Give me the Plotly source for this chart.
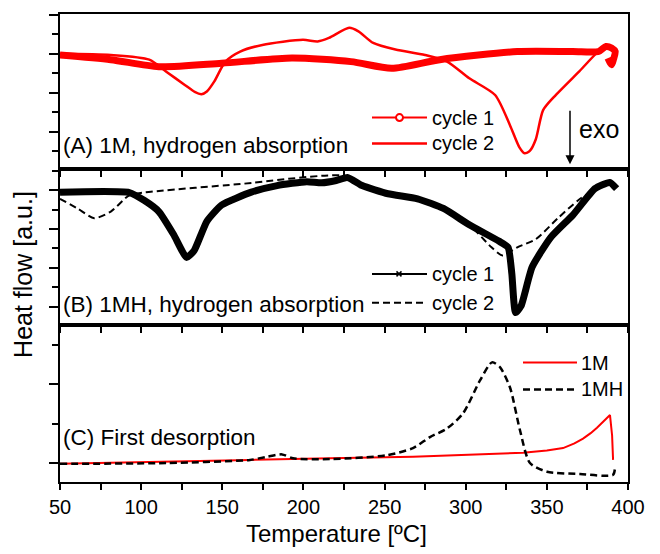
import plotly.graph_objects as go

# ---------------- data (temperature in degC, heat flow in arbitrary units) ----------------
# Panel A: 1M, hydrogen absorption
a_c1_T = [50, 81.3, 110.9, 149.6, 192.9, 229.3, 254.4, 284.0, 331.8, 366.0, 381.9,
          386.4, 389.9, 392.1, 391.0, 389.9, 387.6]
a_c1_y = [1.97, 1.85, 1.67, 1.76, 1.89, 1.80, 1.63, 1.85, 2.06, 2.06, 2.06,
          2.19, 2.15, 2.06, 1.85, 1.72, 1.89]
a_c2_T = [50, 81.3, 105.0, 115.5, 126.9, 133.0, 137.1, 140.5, 145.1, 151.9, 161.0, 174.7,
          199.7, 208.8, 215.7, 228.2, 233.9, 243.0, 256.7, 274.9, 288.5, 302.2, 318.1,
          327.2, 333.0, 336.3, 339.5, 343.2, 347.7, 354.6, 370.0, 384.2, 388.7]
a_c2_y = [2.00, 1.97, 1.85, 1.54, 1.20, 1.02, 0.96, 1.03, 1.29, 1.80, 2.06, 2.23,
          2.36, 2.32, 2.41, 2.67, 2.58, 2.28, 2.11, 1.97, 1.80, 1.37, 0.94,
          0.17, -0.40, -0.56, -0.50, -0.20, 0.55, 0.90, 1.55, 2.15, 2.19]

# Panel B: 1MH, hydrogen absorption
b_c1_T = [50, 92.7, 101.8, 110.9, 120.0, 128.0, 132.6, 140.5, 149.6, 167.9, 183.8, 202.0,
          211.1, 220.2, 227.1, 236.2, 252.1, 270.3, 286.3, 302.2, 320.4, 326.1, 328.4,
          330.7, 334.1, 340.9, 352.3, 366.0, 379.6, 388.7, 393.0]
b_c1_y = [2.95, 2.94, 2.74, 2.45, 1.86, 1.27, 1.44, 2.20, 2.62, 2.95, 3.12, 3.22,
          3.19, 3.25, 3.33, 3.12, 2.91, 2.78, 2.53, 2.11, 1.69, 1.53, 0.86,
          -0.15, 0.02, 1.02, 1.78, 2.36, 3.04, 3.20, 3.04]
b_c2_T = [50, 60.8, 71.1, 81.3, 92.7, 101.8, 161.0, 224.8, 236.2, 252.1, 270.3, 286.3,
          302.2, 315.9, 322.7, 331.8, 343.2, 356.8, 370.5, 384.2, 391.0]
b_c2_y = [2.78, 2.53, 2.28, 2.45, 2.87, 2.94, 3.16, 3.37, 3.12, 2.91, 2.78, 2.53,
          2.11, 1.53, 1.32, 1.53, 1.74, 2.28, 2.78, 3.12, 3.20]

# Panel C: first desorption
c_1m_T = [50, 105.5, 167.1, 216.4, 267.5, 335.3, 350.0, 360.0, 367.0, 372.3, 377.0,
          380.9, 385.0, 388.9, 390.2, 390.8]
c_1m_y = [-0.01, 0.01, 0.04, 0.06, 0.08, 0.13, 0.16, 0.19, 0.25, 0.31, 0.38,
          0.45, 0.53, 0.61, 0.35, 0.04]
c_1mh_T = [50, 115.9, 167.1, 177.6, 186.8, 193.6, 216.4, 251.5, 267.5, 278.0, 288.5, 298.3,
           308.8, 316.2, 321.1, 327.3, 333.4, 339.6, 350.1, 370.4, 390.8, 392.0]
c_1mh_y = [-0.01, 0.00, 0.04, 0.08, 0.11, 0.06, 0.05, 0.10, 0.19, 0.33, 0.44, 0.63,
           1.05, 1.28, 1.22, 0.96, 0.42, 0.00, -0.11, -0.14, -0.15, -0.05]

x_ticks = [50, 100, 150, 200, 250, 300, 350, 400]

RED = "#ff0000"
FONT = "Liberation Sans, Arial, sans-serif"

# The page body has an 8px margin: the figure is sized so that its plot area lands
# where the reference has it in the 660x554 window.
OFF = 8
W, H = 660 - OFF, 554 - OFF
L, T = 60 - OFF, 12 - OFF
R = W - (628 - OFF)
B = H - (482 - OFF)
PW, PH = 568, 470


def yp(py):  # reference pixel row -> paper
    return (482 - py) / PH


def xp(px):  # reference pixel column -> paper
    return (px - 60) / PW


fig = go.Figure()
SM = 0.7

# Panel A
fig.add_trace(go.Scatter(x=a_c1_T, y=a_c1_y, mode="lines",
                         line=dict(color=RED, width=7, shape="spline", smoothing=SM),
                         xaxis="x", yaxis="y", showlegend=False))
fig.add_trace(go.Scatter(x=a_c2_T, y=a_c2_y, mode="lines",
                         line=dict(color=RED, width=2.5, shape="spline", smoothing=SM),
                         xaxis="x", yaxis="y", showlegend=False))

# Panel B
fig.add_trace(go.Scatter(x=b_c1_T, y=b_c1_y, mode="lines",
                         line=dict(color="black", width=7, shape="spline", smoothing=0.5),
                         xaxis="x2", yaxis="y2", showlegend=False))
fig.add_trace(go.Scatter(x=b_c2_T, y=b_c2_y, mode="lines",
                         line=dict(color="black", width=2, dash="7px,4px", shape="spline", smoothing=SM),
                         xaxis="x2", yaxis="y2", showlegend=False))

# Panel C
fig.add_trace(go.Scatter(x=c_1m_T, y=c_1m_y, mode="lines",
                         line=dict(color=RED, width=2),
                         xaxis="x3", yaxis="y3", showlegend=False))
fig.add_trace(go.Scatter(x=c_1mh_T, y=c_1mh_y, mode="lines",
                         line=dict(color="black", width=2.5, dash="7px,4px", shape="spline", smoothing=SM),
                         xaxis="x3", yaxis="y3", showlegend=False))

dom_a = [yp(168), 1.0]
dom_b = [yp(324), yp(168)]
dom_c = [0.0, yp(324)]

xcommon = dict(range=[50, 400], showline=True, linecolor="black", linewidth=2, mirror=True,
               ticks="outside", ticklen=6, tickwidth=1.5, tickcolor="black",
               tickvals=x_ticks, showgrid=False, zeroline=False,
               minor=dict(dtick=25, tick0=0, ticks="outside", ticklen=6, tickwidth=1.5,
                          tickcolor="black", showgrid=False))
ycommon = dict(showline=True, linecolor="black", linewidth=2, mirror=True,
               ticks="outside", ticklen=9, tickwidth=1.5, tickcolor="black",
               dtick=1, tick0=0, showticklabels=False, showgrid=False, zeroline=False,
               minor=dict(dtick=0.5, tick0=0, ticks="outside", ticklen=6, tickwidth=1.5,
                          tickcolor="black", showgrid=False))

fig.update_layout(
    width=W, height=H,
    margin=dict(l=L, r=R, t=T, b=B),
    paper_bgcolor="white", plot_bgcolor="white",
    font=dict(family=FONT, size=20, color="black"),
    showlegend=False,
    xaxis=dict(**xcommon, anchor="y", domain=[0, 1], showticklabels=False),
    xaxis2=dict(**xcommon, anchor="y2", domain=[0, 1], showticklabels=False),
    xaxis3=dict(**xcommon, anchor="y3", domain=[0, 1], showticklabels=True,
                tickfont=dict(size=20, family=FONT)),
    xaxis4=dict(range=[50, 400], overlaying="x", side="top", anchor="y", ticks="inside",
                ticklen=9, tickwidth=1.5, tickcolor="black", tickvals=x_ticks[1:-1],
                showticklabels=False, showline=False, showgrid=False, zeroline=False),
    yaxis=dict(**ycommon, anchor="x", domain=dom_a, range=[-0.974, 3.026]),
    yaxis2=dict(**ycommon, anchor="x2", domain=dom_b, range=[-0.462, 3.538]),
    yaxis3=dict(**ycommon, anchor="x3", domain=dom_c, range=[-0.241, 1.759]),
)

# ---- legend keys (drawn as paper shapes so the key lines match the reference length)
shapes = []


def key_line(x0, x1, y, color, width, dash="solid"):
    shapes.append(dict(type="line", xref="paper", yref="paper", x0=xp(x0), x1=xp(x1),
                       y0=yp(y), y1=yp(y), line=dict(color=color, width=width, dash=dash)))


key_line(372, 427, 116, RED, 2)
shapes.append(dict(type="circle", xref="paper", yref="paper", x0=xp(396), x1=xp(403),
                   y0=yp(119.5), y1=yp(112.5), fillcolor="white", line=dict(color=RED, width=2)))
key_line(372, 427, 142, RED, 2.5)
key_line(372, 427, 273, "black", 2)
shapes.append(dict(type="line", xref="paper", yref="paper", x0=xp(396.5), x1=xp(401.5),
                   y0=yp(270.5), y1=yp(275.5), line=dict(color="black", width=1.5)))
shapes.append(dict(type="line", xref="paper", yref="paper", x0=xp(396.5), x1=xp(401.5),
                   y0=yp(275.5), y1=yp(270.5), line=dict(color="black", width=1.5)))
key_line(372, 427, 302, "black", 2, "7px,4px")
key_line(523, 577, 362, RED, 2)
key_line(523, 577, 389, "black", 2.5, "7px,4px")
fig.update_layout(shapes=shapes)

annotations = [
    dict(text="cycle 1", x=xp(430), y=yp(116), xanchor="left", yanchor="middle",
         font=dict(size=20, family=FONT)),
    dict(text="cycle 2", x=xp(430), y=yp(142), xanchor="left", yanchor="middle",
         font=dict(size=20, family=FONT)),
    dict(text="cycle 1", x=xp(430), y=yp(273), xanchor="left", yanchor="middle",
         font=dict(size=20, family=FONT)),
    dict(text="cycle 2", x=xp(430), y=yp(302), xanchor="left", yanchor="middle",
         font=dict(size=20, family=FONT)),
    dict(text="1M", x=xp(579), y=yp(362), xanchor="left", yanchor="middle",
         font=dict(size=20, family=FONT)),
    dict(text="1MH", x=xp(579), y=yp(389), xanchor="left", yanchor="middle",
         font=dict(size=20, family=FONT)),
    dict(text="(A) 1M, hydrogen absorption", x=xp(61), y=yp(144),
         xanchor="left", yanchor="middle"),
    dict(text="(B) 1MH, hydrogen absorption", x=xp(61), y=yp(304),
         xanchor="left", yanchor="middle"),
    dict(text="(C) First desorption", x=xp(61), y=yp(437),
         xanchor="left", yanchor="middle"),
    dict(text="exo", x=xp(577), y=yp(127), xanchor="left", yanchor="middle",
         font=dict(size=25, family=FONT)),
    dict(text="Heat flow [a.u.]", x=xp(23), y=yp(274), textangle=-90,
         xanchor="center", yanchor="middle", font=dict(size=25, family=FONT)),
    dict(text="Temperature [ºC]", x=xp(336), y=yp(534), xanchor="center",
         yanchor="middle", font=dict(size=24, family=FONT)),
    dict(text="", x=xp(570), y=yp(163), ax=0, ay=-55, showarrow=True,
         arrowhead=2, arrowsize=1.2, arrowwidth=1.5, arrowcolor="black"),
]
for a in annotations:
    a.setdefault("xref", "paper")
    a.setdefault("yref", "paper")
    a.setdefault("showarrow", False)
    a.setdefault("font", dict(size=22.5, family=FONT))
fig.update_layout(annotations=annotations)

fig.write_html("out.html")
